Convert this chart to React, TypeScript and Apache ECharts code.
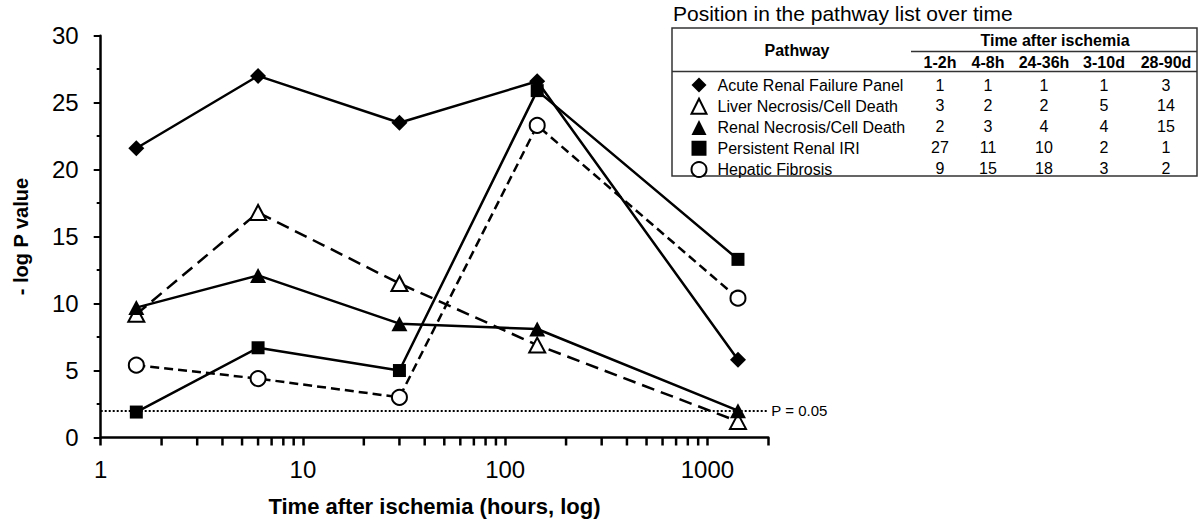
import React, { useEffect, useRef } from 'react';
import * as echarts from 'echarts';

// ---- data ----
const times = [1.5, 6, 30, 144, 1416];
const pathways = [
  'Acute Renal Failure Panel',
  'Liver Necrosis/Cell Death',
  'Renal Necrosis/Cell Death',
  'Persistent Renal IRI',
  'Hepatic Fibrosis',
];
const acuteRenal = [21.6, 27.0, 23.5, 26.6, 5.8];
const liverNecrosis = [9.2, 16.8, 11.5, 6.9, 1.2];
const renalNecrosis = [9.7, 12.1, 8.5, 8.1, 2.0];
const persistentIRI = [1.9, 6.7, 5.0, 25.9, 13.3];
const hepaticFibrosis = [5.4, 4.4, 3.0, 23.3, 10.4];

const minorTickValues = [2, 3, 4, 5, 6, 7, 8, 9, 20, 30, 40, 50, 60, 70, 80, 90, 200, 300, 400, 500, 600, 700, 800, 900];
const thresholdValue = 2.0;
const thresholdLabel = 'P = 0.05';

const tableTitle = 'Position in the pathway list over time';
const timeColumns = ['1-2h', '4-8h', '24-36h', '3-10d', '28-90d'];
const rankAcuteRenal = [1, 1, 1, 1, 3];
const rankLiverNecrosis = [3, 2, 2, 5, 14];
const rankRenalNecrosis = [2, 3, 4, 4, 15];
const rankPersistentIRI = [27, 11, 10, 2, 1];
const rankHepaticFibrosis = [9, 15, 18, 3, 2];

const FONT = "'Liberation Sans', Arial, sans-serif";

export default function App() {
  const ref = useRef<HTMLDivElement>(null);

  useEffect(() => {
    const chart = echarts.init(ref.current!, null, { renderer: 'svg' });

    const seriesValues = [acuteRenal, liverNecrosis, renalNecrosis, persistentIRI, hepaticFibrosis];
    const ranks = [rankAcuteRenal, rankLiverNecrosis, rankRenalNecrosis, rankPersistentIRI, rankHepaticFibrosis];
    const looks: any[] = [
      { symbol: 'diamond', size: [16, 16], fill: '#000', dash: 'solid' },
      { symbol: 'triangle', size: [16, 15], fill: '#fff', dash: [13, 7] },
      { symbol: 'triangle', size: [16, 15], fill: '#000', dash: 'solid' },
      { symbol: 'rect', size: [13, 13], fill: '#000', dash: 'solid' },
      { symbol: 'circle', size: 15, fill: '#fff', dash: [9, 5] },
    ];

    const lineSeries = pathways.map((name, i) => ({
      name,
      type: 'line',
      data: times.map((t, j) => [t, seriesValues[i][j]]),
      symbol: looks[i].symbol,
      symbolSize: looks[i].size,
      z: 3 + i,
      itemStyle: {
        color: looks[i].fill,
        borderColor: '#000',
        borderWidth: looks[i].fill === '#fff' ? 2 : 0,
      },
      lineStyle: { color: '#000', width: 2.5, type: looks[i].dash },
      emphasis: { disabled: true },
      markLine: i === 0 ? {
        silent: true,
        symbol: ['none', 'none'],
        lineStyle: { color: '#000', width: 2, type: [2, 2] },
        label: {
          show: true,
          position: 'end',
          formatter: thresholdLabel,
          color: '#000',
          fontSize: 15,
          fontFamily: FONT,
          distance: 3,
        },
        data: [{ yAxis: thresholdValue }],
      } : undefined,
    }));

    const colX = [940, 988, 1044, 1104, 1166];
    const rowY0 = 85;
    const rowStep = 20.75;

    const graphics: any[] = [
      {
        type: 'text', x: 673, y: 13,
        style: { text: tableTitle, fill: '#000', fontSize: 21, fontFamily: FONT, align: 'left', verticalAlign: 'middle' },
      },
      {
        type: 'rect', shape: { x: 672, y: 28, width: 525, height: 148 },
        style: { fill: 'none', stroke: '#333', lineWidth: 1.5 },
      },
      {
        type: 'line', shape: { x1: 672, y1: 71.5, x2: 1197, y2: 71.5 },
        style: { stroke: '#333', lineWidth: 1.5 },
      },
      {
        type: 'line', shape: { x1: 911, y1: 51.5, x2: 1197, y2: 51.5 },
        style: { stroke: '#333', lineWidth: 1.5 },
      },
      {
        type: 'text', x: 797, y: 50,
        style: { text: 'Pathway', fill: '#000', fontSize: 16, fontWeight: 'bold', fontFamily: FONT, align: 'center', verticalAlign: 'middle' },
      },
      {
        type: 'text', x: 1055, y: 40,
        style: { text: 'Time after ischemia', fill: '#000', fontSize: 16, fontWeight: 'bold', fontFamily: FONT, align: 'center', verticalAlign: 'middle' },
      },
    ];
    timeColumns.forEach((c, j) => {
      graphics.push({
        type: 'text', x: colX[j], y: 62,
        style: { text: c, fill: '#000', fontSize: 16, fontWeight: 'bold', fontFamily: FONT, align: 'center', verticalAlign: 'middle' },
      });
    });
    ranks.forEach((row, i) => {
      row.forEach((v, j) => {
        graphics.push({
          type: 'text', x: colX[j], y: rowY0 + i * rowStep,
          style: { text: String(v), fill: '#000', fontSize: 16, fontFamily: FONT, align: 'center', verticalAlign: 'middle' },
        });
      });
    });

    const option: any = {
      animation: false,
      backgroundColor: '#fff',
      grid: { left: 100.7, right: 1200 - 768.3, top: 35.7, bottom: 525 - 437.5, containLabel: false },
      xAxis: {
        type: 'log',
        logBase: 10,
        min: 1,
        max: 2000,
        name: 'Time after ischemia (hours, log)',
        nameLocation: 'middle',
        nameGap: 58,
        nameTextStyle: { fontSize: 22, fontWeight: 'bold', color: '#000', fontFamily: FONT },
        axisLine: { show: true, lineStyle: { color: '#000', width: 2.5 } },
        axisTick: { show: true, inside: false, length: 8, lineStyle: { color: '#000', width: 2.5 } },
        minorTick: { show: false },
        splitLine: { show: false },
        minorSplitLine: { show: false },
        axisLabel: {
          color: '#000',
          fontSize: 24,
          fontFamily: FONT,
          margin: 20,
          formatter: (v: number) => {
            const l = Math.log10(v);
            return Math.abs(l - Math.round(l)) < 1e-6 ? String(Math.round(v)) : '';
          },
        },
      },
      yAxis: {
        type: 'value',
        min: 0,
        max: 30,
        interval: 5,
        name: '- log P value',
        nameLocation: 'middle',
        nameGap: 70,
        nameRotate: 90,
        nameTextStyle: { fontSize: 20, fontWeight: 'bold', color: '#000', fontFamily: FONT },
        axisLine: { show: true, lineStyle: { color: '#000', width: 2.5 } },
        axisTick: { show: true, inside: false, length: 7, lineStyle: { color: '#000', width: 2 } },
        minorTick: { show: true, splitNumber: 2, length: 4, lineStyle: { color: '#000', width: 2 } },
        splitLine: { show: false },
        axisLabel: { color: '#000', fontSize: 24, fontFamily: FONT, margin: 22 },
      },
      legend: {
        show: true,
        orient: 'vertical',
        left: 690.5,
        top: 77,
        padding: 0,
        itemWidth: 15,
        itemHeight: 15,
        itemGap: 4.75,
        selectedMode: false,
        textStyle: { fontSize: 16, lineHeight: 16, color: '#000', fontFamily: FONT, padding: [0, 0, 0, 6] },
        data: pathways.map((name, i) => ({
          name,
          icon: looks[i].symbol,
          itemStyle: {
            color: looks[i].fill,
            borderColor: '#000',
            borderWidth: looks[i].fill === '#fff' ? 2 : 0,
          },
        })),
      },
      graphic: graphics,
      series: lineSeries,
    };

    chart.setOption(option);

    // minor log ticks (2..9 per decade), positioned through the axis scale
    const yBase = chart.convertToPixel({ yAxisIndex: 0 }, 0) as number;
    const tickLines = minorTickValues.map((v) => {
      const px = chart.convertToPixel({ xAxisIndex: 0 }, v) as number;
      return {
        type: 'line',
        shape: { x1: px, y1: yBase, x2: px, y2: yBase + 8 },
        style: { stroke: '#000', lineWidth: 2.5 },
        z: 10,
      };
    });
    chart.setOption({ graphic: [...graphics, ...tickLines] });

    return () => chart.dispose();
  }, []);

  return (
    <div
      ref={ref}
      style={{ position: 'absolute', left: 0, top: 0, width: 1200, height: 525, background: '#fff' }}
    />
  );
}
